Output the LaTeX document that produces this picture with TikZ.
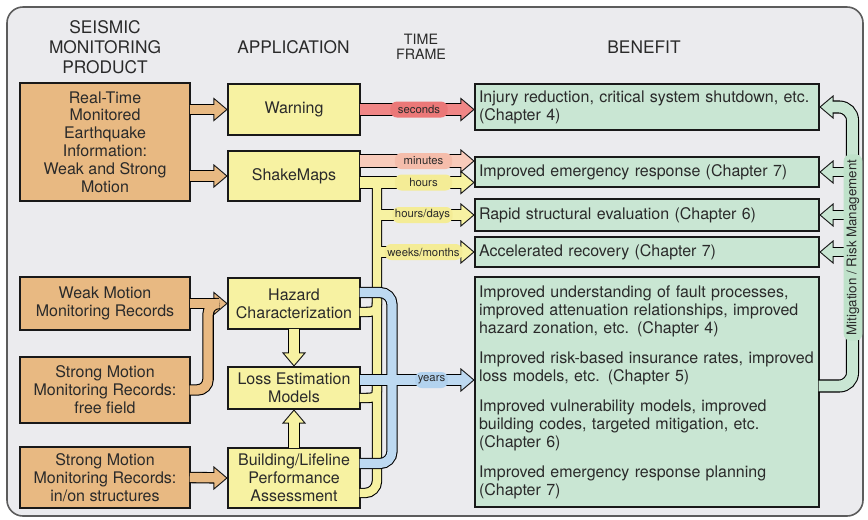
\documentclass[tikz,border=0pt]{standalone}
\usepackage{fontspec}
\setmainfont{TeX Gyre Heros}
\definecolor{bgc}{HTML}{EBEBEE}
\definecolor{frm}{HTML}{5C5C5C}
\definecolor{txt}{HTML}{2A2A2A}
\definecolor{orng}{HTML}{E8B982}
\definecolor{ylw}{HTML}{F7F2A2}
\definecolor{ylwl}{HTML}{F4EC96}
\definecolor{mint}{HTML}{C9E6D3}
\definecolor{mintl}{HTML}{BFE2CA}
\definecolor{redp}{HTML}{F08686}
\definecolor{redl}{HTML}{EB7878}
\definecolor{minp}{HTML}{F8CBBB}
\definecolor{minl}{HTML}{F5BDAB}
\definecolor{blup}{HTML}{BDD9F1}
\definecolor{blul}{HTML}{B2D2EE}
\begin{document}
\begin{tikzpicture}[x=0.75pt,y=-0.75pt,
  prod/.style={draw=black!90, line width=1.6pt, fill=orng, text=txt, minimum width=127.5pt,
    align=center, inner sep=2pt, font=\fontsize{12}{13.4}\selectfont},
  app/.style={prod, fill=ylw, minimum width=99pt},
  gain/.style={draw=black!90, line width=1.6pt, fill=mint, text=txt, text width=252pt,
    inner xsep=3pt, inner ysep=2pt, align=left, font=\fontsize{12}{13.5}\selectfont},
  hdr/.style={text=txt, align=center, font=\fontsize{13}{15}\selectfont},
  head/.style={draw=black!90, line width=0.7pt},
  pipe/.style={line width=#1+\pext, draw=\pcol, shorten <=-1pt},
  tipend/.style={shorten >=\ptip},
  pill/.style={fill=#1, text=txt, rounded corners=5pt, inner xsep=2pt, inner ysep=0pt,
    minimum height=12pt, minimum width=43pt, font=\fontsize{8.5}{9}\selectfont}]
  \useasboundingbox (0,0) rectangle (868,519);
  \draw[fill=bgc, draw=frm, line width=1.2pt, rounded corners=12pt] (7,7) rectangle (863,516);

  % column heads
  \node[hdr] (hprod) at (105,47) {SEISMIC\\MONITORING\\PRODUCT};
  \node[hdr] (happ) at (293.5,47) {APPLICATION};
  \node[hdr, font=\fontsize{10.7}{11.3}\selectfont] (htime) at (421,46.5) {TIME\\FRAME};
  \node[hdr] (hben) at (644,47) {BENEFIT};

  % products
  \node[prod, minimum height=88.5pt] (rt) at (105,142)
    {Real-Time\\Monitored\\Earthquake\\Information:\\Weak and Strong\\Motion};
  \node[prod, minimum height=39.75pt] (weak) at (105,303.5) {Weak Motion\\Monitoring Records};
  \node[prod, minimum height=49.5pt] (free) at (105,390) {Strong Motion\\Monitoring Records:\\free field};
  \node[prod, minimum height=45.75pt] (inon) at (105,477.5) {Strong Motion\\Monitoring Records:\\in/on structures};

  % applications
  \node[app, minimum height=38.25pt] (warn) at (294,109.5) {Warning};
  \node[app, minimum height=37.5pt] (shake) at (294,176) {ShakeMaps};
  \node[app, minimum height=38.25pt] (hazard) at (294,303.5) {Hazard\\Characterization};
  \node[app, minimum height=31.5pt] (loss) at (294,388) {Loss Estimation\\Models};
  \node[app, minimum height=45pt] (build) at (294,478) {Building/Lifeline\\Performance\\Assessment};

  % benefits
  \node[gain, minimum height=34.5pt] (b1) at (647,107)
    {Injury reduction, critical system shutdown, etc.\\(Chapter 4)};
  \node[gain, minimum height=22.5pt] (b2) at (647,172) {Improved emergency response (Chapter 7)};
  \node[gain, minimum height=24pt] (b3) at (647,215) {Rapid structural evaluation (Chapter 6)};
  \node[gain, minimum height=22.5pt] (b4) at (647,252) {Accelerated recovery (Chapter 7)};
  \node[gain, minimum height=172.5pt] (b5) at (647,392)
    {Improved understanding of fault processes,\\improved attenuation relationships, improved\\hazard zonation, etc. (Chapter 4)\\[9pt]
     Improved risk-based insurance rates, improved\\loss models, etc. (Chapter 5)\\[9pt]
     Improved vulnerability models, improved\\building codes, targeted mitigation, etc.\\(Chapter 6)\\[9pt]
     Improved emergency response planning\\(Chapter 7)};

  \coordinate (trunk) at (377,182.5);
  \coordinate (spine) at (392,380);
  \coordinate (mit) at (852.5,250);
  \coordinate (hrsTip) at (b2.west |- trunk);
  \coordinate (minTip) at (b2.west |- 0,161);
  \coordinate (secTip) at (warn.east -| b1.west);
  \coordinate (yrsTip) at (b5.west |- spine);

  % orange feeds
  \foreach \t in {warn.west, shake.west, hazard.west, build.west}
    \filldraw[head, fill=orng, shift={(\t)}] (0,0) -- (-13,-11) -- (-13,11) -- cycle;
  \foreach \pext/\pcol/\ptip in {1.6pt/black/9.6pt, 0pt/orng/8.5pt} {
    \draw[pipe=7pt, tipend] (rt.east |- warn.west) -- (warn.west);
    \draw[pipe=7pt, tipend] (rt.east |- shake.west) -- (shake.west);
    \draw[pipe=7pt, tipend] (weak.east) -- (hazard.west);
    \draw[pipe=7pt, tipend, rounded corners=8pt] (free.east) -- ++(17,0) |- (hazard.west);
    \draw[pipe=7pt, tipend] (inon.east) -- (build.west);
  }

  % yellow: hours and later
  \foreach \t/\r in {hrsTip/0, b3.west/0, b4.west/0, loss.north/-90, loss.south/90}
    \filldraw[head, fill=ylw, shift={(\t)}, rotate=\r] (0,0) -- (-13,-11) -- (-13,11) -- cycle;
  \foreach \pext/\pcol/\ptip in {1.6pt/black/9.6pt, 0pt/ylw/8.5pt} {
    \draw[pipe=8.8pt, tipend] (shake.east |- trunk) -- (hrsTip);
    \draw[pipe=6.2pt, rounded corners=9pt, shorten >=-1pt] (trunk) |- (build.east |- 0,493);
    \draw[pipe=6.2pt] (hazard.east |- 0,312) .. controls (trunk |- 0,312) .. (trunk |- 0,298);
    \draw[pipe=6.2pt] (loss.east |- 0,398) .. controls (trunk |- 0,398) .. (trunk |- 0,386);
    \draw[pipe=7.4pt, tipend] (trunk |- b3.west) -- (b3.west);
    \draw[pipe=7.4pt, tipend] (trunk |- b4.west) -- (b4.west);
    \draw[pipe=7pt, tipend] (hazard.south) -- (loss.north);
    \draw[pipe=7pt, tipend] (build.north) -- (loss.south);
  }

  % seconds and minutes
  \filldraw[head, fill=redp, shift={(secTip)}] (0,0) -- (-13,-11) -- (-13,11) -- cycle;
  \filldraw[head, fill=minp, shift={(minTip)}] (0,0) -- (-13,-11) -- (-13,11) -- cycle;
  \foreach \pext/\pcol/\ptip in {1.6pt/black/9.6pt, 0pt/redp/8.5pt}
    \draw[pipe=8.8pt, tipend] (warn.east) -- (secTip);
  \foreach \pext/\pcol/\ptip in {1.6pt/black/9.6pt, 0pt/minp/8.5pt}
    \draw[pipe=8.8pt, tipend] (shake.east |- minTip) -- (minTip);

  % years
  \filldraw[head, fill=blup, shift={(yrsTip)}] (0,0) -- (-13,-11) -- (-13,11) -- cycle;
  \foreach \pext/\pcol/\ptip in {1.6pt/black/9.6pt, 0pt/blup/8.5pt} {
    \draw[pipe=6.8pt, rounded corners=9pt, shorten >=-1pt]
      (hazard.east |- 0,292.5) -| (spine) |- (build.east |- 0,463.5);
    \draw[pipe=6.8pt, tipend] (loss.east |- spine) -- (yrsTip);
  }

  % mitigation loop
  \foreach \t in {b1.east, b2.east, b3.east, b4.east}
    \filldraw[head, fill=mint, shift={(\t)}, rotate=180] (0,0) -- (-13,-11) -- (-13,11) -- cycle;
  \foreach \pext/\pcol/\ptip in {1.6pt/black/9.6pt, 0pt/mint/8.5pt} {
    \draw[pipe=8.2pt, tipend, rounded corners=10pt] (b5.east |- 0,386) -| (mit) |- (b1.east);
    \draw[pipe=5.4pt, tipend] (mit |- b2.east) -- (b2.east);
    \draw[pipe=5.4pt, tipend] (mit |- b3.east) -- (b3.east);
    \draw[pipe=5.4pt, tipend] (mit |- b4.east) -- (b4.east);
  }

  % time labels
  \node[pill=redl] (sec) at (419,109.5) {seconds};
  \node[pill=minl] (min) at (423.5,161) {minutes};
  \node[pill=ylwl] (hrs) at (423.5,182.5) {hours};
  \node[pill=ylwl] (hd) at (422.5,215) {hours/days};
  \node[pill=ylwl, minimum width=0pt] (wm) at (423.5,252) {weeks/months};
  \node[pill=blul, minimum width=0pt] (yrs) at (431.5,380) {years};
  \node[pill=mintl, rotate=90, minimum height=14pt, inner xsep=4pt,
    font=\fontsize{10}{11}\selectfont] (mlbl) at (853,247.5) {Mitigation / Risk Management};
\end{tikzpicture}
\end{document}
